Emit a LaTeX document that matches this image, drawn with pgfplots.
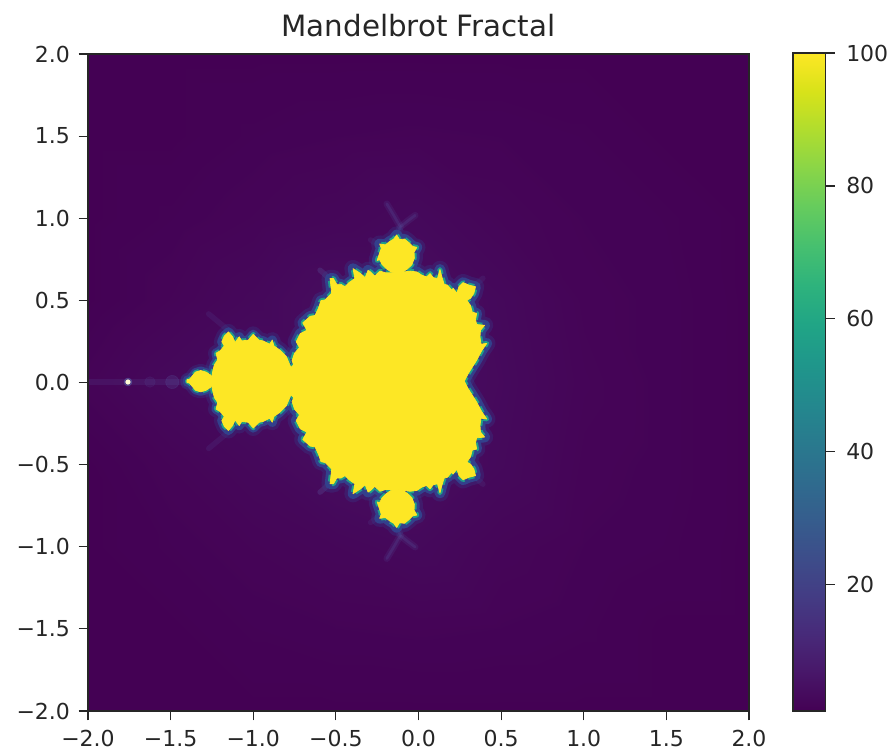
\documentclass[border=0pt]{standalone}
\usepackage{fontspec}
\setmainfont{DejaVu Sans}
\usepackage{pgfplots}
\usepackage{pgfplotstable}
\pgfplotsset{compat=1.18}
\definecolor{vyellow}{HTML}{FDE725}
\definecolor{vteal}{HTML}{1F9E89}
\definecolor{vblue}{HTML}{33408C}
\definecolor{vfaint}{HTML}{5A62A8}
\definecolor{txt}{HTML}{262626}
\pgfplotstableread{
x y
0.27 -0.01
0.28 0.006
0.30 0.045
0.322 0.08
0.352 0.128
0.382 0.185
0.413 0.23
0.378 0.225
0.372 0.27
0.375 0.31
0.40 0.34
0.352 0.345
0.345 0.375
0.352 0.413
0.325 0.42
0.315 0.46
0.292 0.493
0.315 0.505
0.335 0.535
0.345 0.575
0.305 0.585
0.27 0.60
0.245 0.575
0.232 0.535
0.21 0.565
0.20 0.555
0.175 0.585
0.155 0.59
0.14 0.64
0.13 0.68
0.115 0.625
0.09 0.63
0.07 0.655
0.05 0.635
0.02 0.645
-0.01 0.665
-0.05 0.67
-0.09 0.665
-0.125 0.66
-0.17 0.66
-0.20 0.66
-0.233 0.67
-0.265 0.64
-0.29 0.665
-0.305 0.675
-0.323 0.63
-0.35 0.655
-0.396 0.685
-0.385 0.625
-0.42 0.60
-0.445 0.575
-0.47 0.59
-0.495 0.59
-0.515 0.625
-0.535 0.625
-0.525 0.535
-0.565 0.495
-0.59 0.49
-0.605 0.445
-0.626 0.40
-0.655 0.395
-0.70 0.355
-0.675 0.31
-0.715 0.29
-0.74 0.24
-0.72 0.205
-0.75 0.17
-0.765 0.125
-0.755 0.10
-0.77 0.085
-0.75 -0.01
}\tmain
\pgfplotstableread{
x y
-0.132 0.89
-0.115 0.862
-0.085 0.865
-0.06 0.845
-0.035 0.82
-0.01 0.815
-0.027 0.785
-0.025 0.75
-0.04 0.71
-0.065 0.685
-0.095 0.665
-0.13 0.655
-0.165 0.665
-0.195 0.685
-0.22 0.71
-0.235 0.74
-0.25 0.735
-0.237 0.775
-0.225 0.81
-0.235 0.835
-0.20 0.83
-0.175 0.85
-0.15 0.865
}\ttop
\pgfplotstableread{
x y
-0.74 -0.01
-0.745 0.05
-0.775 0.09
-0.80 0.15
-0.84 0.19
-0.875 0.215
-0.885 0.25
-0.90 0.225
-0.94 0.245
-0.965 0.25
-1.0 0.285
-1.03 0.25
-1.07 0.245
-1.085 0.27
-1.11 0.235
-1.125 0.27
-1.15 0.30
-1.175 0.275
-1.19 0.24
-1.175 0.215
-1.20 0.185
-1.225 0.17
-1.215 0.13
-1.235 0.10
-1.245 0.06
-1.25 0.03
-1.25 -0.01
}\tdisc
\pgfplotstableread{
x y
-1.24 -0.01
-1.255 0.035
-1.285 0.055
-1.318 0.065
-1.35 0.055
-1.37 0.03
-1.385 0.012
-1.40 0.004
-1.40 -0.01
}\tsmall
\pgfplotstableread{
x y
-0.132 0.88
-0.11 0.94
-0.15 1.01
-0.192 1.08
}\fa
\pgfplotstableread{
x y
-0.11 0.94
-0.06 0.98
-0.02 1.01
}\fb
\pgfplotstableread{
x y
-0.23 0.82
-0.29 0.86
}\fc
\pgfplotstableread{
x y
0.33 0.566
0.36 0.60
0.39 0.627
}\fd
\pgfplotstableread{
x y
-0.535 0.615
-0.566 0.65
-0.596 0.676
}\fe
\pgfplotstableread{
x y
-1.15 0.31
-1.21 0.36
-1.27 0.41
}\ff
\pgfplotstableread{
x y
-2.0 0
-1.76 0
-1.40 0
}\fs
\newcommand{\blob}[2]{%
  \addplot[#1] table[y expr=\thisrow{y}+0.008]{#2} --cycle;
  \addplot[#1] table[y expr=-\thisrow{y}+0.008]{#2} --cycle;}
\newcommand{\fil}[2]{%
  \addplot[#1] table[y expr=\thisrow{y}+0.008]{#2};
  \addplot[#1] table[y expr=-\thisrow{y}+0.008]{#2};}
\begin{document}
\begin{tikzpicture}
\path[use as bounding box] (-66pt,-31.5pt) rectangle +(667.5pt,564.75pt);
\begin{axis}[
  at={(0pt,0pt)}, anchor=south west, scale only axis,
  width=495.75pt, height=492.75pt,
  xmin=-2, xmax=2, ymin=-2, ymax=2,
  axis on top,
  xtick={-2,-1.5,...,2}, ytick={-2,-1.5,...,2},
  xticklabels={−2.0,−1.5,−1.0,−0.5,0.0,0.5,1.0,1.5,2.0},
  yticklabels={−2.0,−1.5,−1.0,−0.5,0.0,0.5,1.0,1.5,2.0},
  tick align=outside, tick pos=left,
  major tick length=7pt,
  every tick/.style={txt, line width=0.9pt},
  axis line style={txt, line width=0.9pt},
  tick label style={font=\fontsize{16.5pt}{19pt}\selectfont, text=txt},
  xticklabel style={yshift=-4pt},
  yticklabel style={xshift=-3pt},
  title={Mandelbrot Fractal},
  title style={font=\fontsize{22pt}{26pt}\selectfont, text=txt, at={(0.5,1)}, anchor=base, yshift=6.75pt},
  colormap/viridis,
  point meta min=1, point meta max=100,
]
\addplot[surf, shader=interp, mesh/cols=9, point meta=explicit] table[x=x,y=y,meta=v] {
x y v
-2 -2 1
-1.5 -2 1
-1 -2 1
-0.5 -2 1
0 -2 1
0.5 -2 1
1 -2 1
1.5 -2 1
2 -2 1
-2 -1.5 1
-1.5 -1.5 1
-1 -1.5 1.4
-0.5 -1.5 1.6
0 -1.5 1.7
0.5 -1.5 1.6
1 -1.5 1.4
1.5 -1.5 1
2 -1.5 1
-2 -1 1
-1.5 -1 1.4
-1 -1 1.9
-0.5 -1 2.4
0 -1 3
0.5 -1 2.1
1 -1 1.6
1.5 -1 1.4
2 -1 1
-2 -0.5 1
-1.5 -0.5 1.9
-1 -0.5 2.8
-0.5 -0.5 4
0 -0.5 4
0.5 -0.5 3
1 -0.5 1.8
1.5 -0.5 1.5
2 -0.5 1
-2 0 1.8
-1.5 0 3
-1 0 4
-0.5 0 4
0 0 4
0.5 0 3.2
1 0 2
1.5 0 1.5
2 0 1
-2 0.5 1
-1.5 0.5 1.9
-1 0.5 2.8
-0.5 0.5 4
0 0.5 4
0.5 0.5 3
1 0.5 1.8
1.5 0.5 1.5
2 0.5 1
-2 1 1
-1.5 1 1.4
-1 1 1.9
-0.5 1 2.4
0 1 3
0.5 1 2.1
1 1 1.6
1.5 1 1.4
2 1 1
-2 1.5 1
-1.5 1.5 1
-1 1.5 1.4
-0.5 1.5 1.6
0 1.5 1.7
0.5 1.5 1.6
1 1.5 1.4
1.5 1.5 1
2 1.5 1
-2 2 1
-1.5 2 1
-1 2 1
-0.5 2 1
0 2 1
0.5 2 1
1 2 1
1.5 2 1
2 2 1
};
% faint filaments
\fil{vfaint, opacity=0.14, line width=5pt, line cap=round}{\fa}
\fil{vfaint, opacity=0.2, line width=2pt, line cap=round}{\fa}
\fil{vfaint, opacity=0.14, line width=5pt, line cap=round}{\fb}
\fil{vfaint, opacity=0.2, line width=2pt, line cap=round}{\fb}
\fil{vfaint, opacity=0.14, line width=4pt, line cap=round}{\fc}
\fil{vfaint, opacity=0.14, line width=4pt, line cap=round}{\fd}
\fil{vfaint, opacity=0.25, line width=4pt, line cap=round}{\fe}
\fil{vfaint, opacity=0.14, line width=4pt, line cap=round}{\ff}
\addplot[vfaint, opacity=0.15, line width=4pt] table[y expr=\thisrow{y}+0.003]{\fs};
\addplot[only marks, mark=*, mark size=5pt, color=vfaint, opacity=0.2] coordinates {(-1.49,0.003)};
\addplot[only marks, mark=*, mark size=4pt, color=vfaint, opacity=0.12] coordinates {(-1.625,0.003)};
% blue halo
\blob{draw=vblue, line width=13pt, line join=round, opacity=0.3}{\tmain}
\blob{draw=vblue, line width=13pt, line join=round, opacity=0.3}{\ttop}
\blob{draw=vblue, line width=12pt, line join=round, opacity=0.3}{\tdisc}
\blob{draw=vblue, line width=10pt, line join=round, opacity=0.3}{\tsmall}
\blob{draw=vblue, line width=8pt, line join=round}{\tmain}
\blob{draw=vblue, line width=8pt, line join=round}{\ttop}
\blob{draw=vblue, line width=7pt, line join=round}{\tdisc}
\blob{draw=vblue, line width=6pt, line join=round}{\tsmall}
% teal edge, broken into specks
\blob{draw=vteal, line width=3.6pt, line join=round, dash pattern=on 5pt off 3pt}{\tmain}
\blob{draw=vteal, line width=3.6pt, line join=round, dash pattern=on 5pt off 3pt}{\ttop}
\blob{draw=vteal, line width=3.4pt, line join=round, dash pattern=on 5pt off 3pt}{\tdisc}
\blob{draw=vteal, line width=3pt, line join=round, dash pattern=on 5pt off 3pt}{\tsmall}
% interior
\blob{fill=vyellow, draw=vyellow, line width=0.6pt, line join=round}{\tmain}
\blob{fill=vyellow, draw=vyellow, line width=0.6pt, line join=round}{\ttop}
\blob{fill=vyellow, draw=vyellow, line width=0.6pt, line join=round}{\tdisc}
\blob{fill=vyellow, draw=vyellow, line width=0.6pt, line join=round}{\tsmall}
% minibrot
\addplot[only marks, mark=*, mark size=3pt, color=vfaint, opacity=0.5] coordinates {(-1.758,0.003)};
\addplot[only marks, mark=*, mark size=1.7pt, color=white!80!vyellow] coordinates {(-1.758,0.003)};
\end{axis}
\begin{axis}[
  at={(528.75pt,0pt)}, anchor=south west, scale only axis,
  width=24.4pt, height=493.5pt,
  xmin=0, xmax=1, ymin=1, ymax=100,
  axis on top,
  xtick=\empty,
  ytick={20,40,60,80,100},
  yticklabels={20,40,60,80,100},
  ytick pos=right, yticklabel pos=right,
  tick align=outside,
  major tick length=7pt,
  every tick/.style={txt, line width=0.9pt},
  axis line style={txt, line width=0.9pt},
  tick label style={font=\fontsize{16.5pt}{19pt}\selectfont, text=txt},
  yticklabel style={xshift=5pt},
  colormap/viridis,
  point meta min=1, point meta max=100,
]
\addplot[surf, shader=interp, mesh/cols=2, point meta=y] table {
x y
0 1
1 1
0 100
1 100
};
\end{axis}
\end{tikzpicture}
\end{document}
